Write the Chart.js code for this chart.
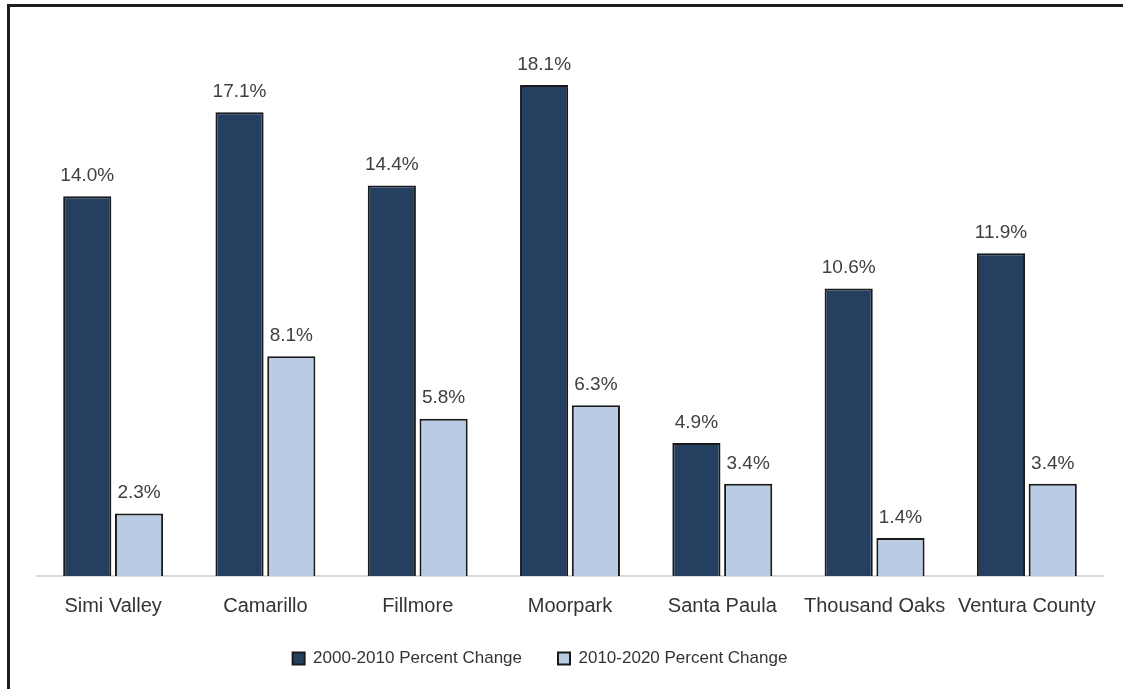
<!DOCTYPE html>
<html>
<head>
<meta charset="utf-8">
<script src="https://cdn.jsdelivr.net/npm/chart.js@4"></script>
<style>
  body { margin: 0; background: #fff; }
  #frame {
    position: absolute; left: 7px; top: 4px;
    width: 1113px; height: 682px;
    border-top: 3px solid #1e1e1e; border-left: 3px solid #1e1e1e;
  }
  #frame canvas { display: block; }
</style>
</head>
<body>
<div id="frame"><canvas id="growthChart" width="1113" height="682"></canvas></div>
<script>
// Places along the x axis
const places = ['Simi Valley', 'Camarillo', 'Fillmore', 'Moorpark', 'Santa Paula', 'Thousand Oaks', 'Ventura County'];

// Population change by decade (percent)
const change2000to2010 = [14.0, 17.1, 14.4, 18.1, 4.9, 10.6, 11.9];
const change2010to2020 = [2.3, 8.1, 5.8, 6.3, 3.4, 1.4, 3.4];

const labelFont = '"Liberation Sans", Arial, sans-serif';

// Writes the percent value above every bar
const valueLabels = {
    id: 'valueLabels',
    afterDatasetsDraw(chart) {
        const ctx = chart.ctx;
        ctx.save();
        ctx.font = '19px ' + labelFont;
        ctx.fillStyle = '#404040';
        ctx.textAlign = 'center';
        ctx.textBaseline = 'bottom';
        chart.data.datasets.forEach((ds, i) => {
            chart.getDatasetMeta(i).data.forEach((bar, j) => {
                ctx.fillText(ds.data[j].toFixed(1) + '%', bar.x, bar.y - 11);
            });
        });
        ctx.restore();
    }
};

// Nudge the legend up and a little left of the plot centre
const legendShift = {
    id: 'legendShift',
    afterLayout(chart) {
        chart.legend.left -= 30;
        chart.legend.right -= 30;
        chart.legend.top -= 7;
        chart.legend.bottom -= 7;
    }
};

const ctx = document.getElementById('growthChart').getContext('2d');

new Chart(ctx, {
    type: 'bar',
    data: {
        labels: places,
        datasets: [
            {
                label: '2000-2010 Percent Change',
                data: change2000to2010,
                backgroundColor: '#243f60',
                borderColor: '#1a1a1a',
                borderWidth: 2
            },
            {
                label: '2010-2020 Percent Change',
                data: change2010to2020,
                backgroundColor: '#b9cce4',
                borderColor: '#1a1a1a',
                borderWidth: 2
            }
        ]
    },
    options: {
        responsive: false,
        animation: false,
        layout: { padding: { left: 27, right: 20, top: 13, bottom: 5 } },
        datasets: {
            bar: { categoryPercentage: 0.68, barPercentage: 0.93 }
        },
        plugins: {
            legend: {
                position: 'bottom',
                labels: {
                    font: { size: 17, family: labelFont },
                    color: '#333333',
                    boxWidth: 12,
                    boxHeight: 12,
                    padding: 36
                }
            },
            tooltip: { enabled: false }
        },
        scales: {
            x: {
                grid: { display: false, drawTicks: false },
                border: { color: '#d9d9d9', width: 2 },
                ticks: {
                    font: { size: 20, family: labelFont },
                    color: '#333333',
                    padding: 18
                },
                afterFit(scale) { scale.height -= 15; }
            },
            y: {
                display: false,
                min: 0,
                max: 20.5
            }
        }
    },
    plugins: [valueLabels, legendShift]
});
</script>
</body>
</html>
